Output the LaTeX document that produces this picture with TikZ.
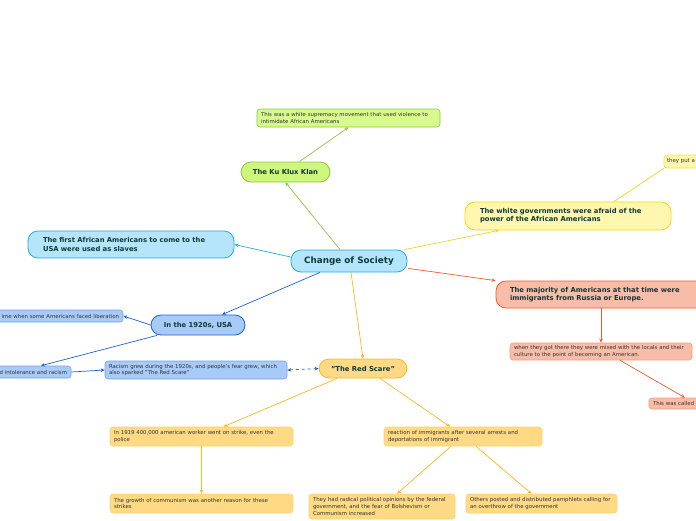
\documentclass[tikz,border=0pt]{standalone}
\usepackage{fontspec}
\setmainfont{DejaVu Sans}
\usetikzlibrary{arrows.meta}
\definecolor{gF}{HTML}{CEF57C}\definecolor{gB}{HTML}{8DC63F}\definecolor{gF2}{HTML}{D7F98E}
\definecolor{bF}{HTML}{B5E5FB}\definecolor{bB}{HTML}{29A9E1}
\definecolor{yF}{HTML}{FFF7B0}\definecolor{yB}{HTML}{EFD51E}
\definecolor{sF}{HTML}{F8BDA9}\definecolor{sB}{HTML}{F25A28}
\definecolor{dF}{HTML}{A8CAF9}\definecolor{dB}{HTML}{1C62D0}
\definecolor{oF}{HTML}{FFD983}\definecolor{oB}{HTML}{FFB51C}
\definecolor{topT}{HTML}{0E3A38}\definecolor{subT}{HTML}{333333}
\tikzset{
  topic/.style={draw, rounded corners=10pt, line width=0.8pt, font=\fontsize{6.8}{8.2}\selectfont\bfseries, text=topT, align=left, inner xsep=0pt, inner ysep=0pt},
  subbox/.style={draw, rounded corners=3pt, line width=0.6pt, font=\fontsize{5.4}{6.7}\selectfont, text=subT, align=left, inner xsep=0pt, inner ysep=0pt},
  arr/.style={line width=0.7pt, -{Stealth[length=4pt,width=3.5pt]}},
}
\begin{document}
\begin{tikzpicture}[x=1pt,y=-1pt]
\useasboundingbox (0,0) rectangle (696,520);
\clip (0,0) rectangle (696,520);
% central
\node[topic, fill=bF, draw=bB, minimum width=116pt, minimum height=22pt, font=\fontsize{8.8}{10}\selectfont\bfseries, align=center] (c) at (349,261) {Change of Society};
% KKK
\node[topic, fill=gF, draw=gB, minimum width=89pt, minimum height=20pt, align=center] (kkk) at (285.5,172) {The Ku Klux Klan};
\node[subbox, fill=gF2, draw=gB, minimum width=183pt, minimum height=18pt, text width=175pt] (kkkd) at (348.5,118) {This was a white supremacy movement that used violence to\\intimidate African Americans};
% first african
\node[topic, fill=bF, draw=bB, minimum width=206pt, minimum height=27pt, text width=176pt] (fa) at (131,244.5) {The first African Americans to come to the\\USA were used as slaves};
% white governments
\node[topic, fill=yF, draw=yB, minimum width=206pt, minimum height=28pt, text width=176pt] (wg) at (568,216) {The white governments were afraid of the\\power of the African Americans};
\node[subbox, fill=yF, draw=yB!80, minimum width=60pt, minimum height=13pt, text width=54pt] (tp) at (694,161.5) {they put a};
% majority
\node[topic, fill=sF, draw=sB, minimum width=210pt, minimum height=27pt, text width=182pt] (mj) at (601,294.5) {The majority of Americans at that time were\\immigrants from Russia or Europe.};
\node[subbox, fill=sF, draw=sB!60, minimum width=182pt, minimum height=17pt, text width=174pt] (wt) at (601,351.5) {when they got there they were mixed with the locals and their\\culture to the point of becoming an American.};
\node[subbox, fill=sF, draw=sB!60, minimum width=60pt, minimum height=11pt, text width=52pt] (tw) at (679,403.5) {This was called};
% 1920s
\node[topic, fill=dF, draw=dB, minimum width=94pt, minimum height=20pt, align=center] (tw20) at (198,325) {In the 1920s, USA};
\node[subbox, fill=dF, draw=dB!60, minimum width=140pt, minimum height=12pt, text width=132pt, align=right] (lib) at (53,316) {ime when some Americans faced liberation};
\node[subbox, fill=dF, draw=dB!60, minimum width=84pt, minimum height=12pt, text width=76pt, align=right] (int) at (29,372) {d intolerance and racism};
\node[subbox, fill=dF, draw=dB!60, minimum width=182pt, minimum height=18pt, text width=174pt] (rg) at (196,370) {Racism grew during the 1920s, and people's fear grew, which\\also sparked "The Red Scare"};
% red scare
\node[topic, fill=oF, draw=oB, minimum width=88pt, minimum height=19pt, align=center] (rs) at (363,368.5) {"The Red Scare"};
\node[subbox, fill=oF, draw=oB!60, minimum width=183pt, minimum height=19pt, text width=175pt] (s19) at (201.5,436.5) {In 1919 400,000 american worker went on strike, even the\\police};
\node[subbox, fill=oF, draw=oB!60, minimum width=183pt, minimum height=19pt, text width=175pt] (gc) at (201.5,503.5) {The growth of communism was another reason for these\\strikes};
\node[subbox, fill=oF, draw=oB!60, minimum width=158pt, minimum height=19pt, text width=150pt] (re) at (463,436.5) {reaction of immigrants after several arrests and\\deportations of immigrant};
\node[subbox, fill=oF, draw=oB!60, minimum width=146pt, minimum height=25pt, text width=138pt] (rad) at (382,506.5) {They had radical political opinions by the federal\\government, and the fear of Bolshevism or\\Communism increased};
\node[subbox, fill=oF, draw=oB!60, minimum width=151pt, minimum height=19pt, text width=143pt] (ot) at (541.5,503.5) {Others posted and distributed pamphlets calling for\\an overthrow of the government};
% connectors
\draw[arr, draw=gB] (c.north) ++(-9,0) coordinate (c1) -- (kkk.south);
\draw[arr, draw=gB] (kkk.north) ++(14,0) coordinate (k1) -- (kkkd.south);
\draw[arr, draw=bB] (c.west) ++(0,-4) coordinate (c2) -- (fa.east);
\draw[arr, draw=yB] (c.north east) ++(-3,0) coordinate (c3) -- ([xshift=-69pt]wg.south);
\draw[line width=0.7pt, draw=yB] ([xshift=46pt]wg.north) -- (tp.south west);
\draw[arr, draw=sB] (c.south east) ++(1,-4) coordinate (c4) -- (mj.north west);
\draw[arr, draw=sB] (mj.south) -- (wt.north);
\draw[arr, draw=sB] ([xshift=19pt]wt.south) -- ([xshift=6pt]tw.north);
\draw[arr, draw=dB] ([xshift=-29pt]c.south) -- ([xshift=24pt]tw20.north);
\draw[arr, draw=dB] (tw20.west) -- (lib.east);
\draw[arr, draw=dB] ([xshift=-41pt]tw20.south) -- ([xshift=12pt]int.north);
\draw[arr, draw=dB] (int.east) -- (rg.west);
\draw[line width=0.7pt, draw=dB, dashed, {Stealth[length=4pt,width=3.5pt]}-{Stealth[length=4pt,width=3.5pt]}] (rg.east) -- (rs.west);
\draw[arr, draw=oB] ([xshift=2pt]c.south) -- (rs.north);
\draw[arr, draw=oB] ([xshift=-26pt]rs.south) -- ([xshift=22pt]s19.north);
\draw[arr, draw=oB] ([xshift=17pt]rs.south) -- ([xshift=-13pt]re.north);
\draw[arr, draw=oB] (s19.south) -- (gc.north);
\draw[arr, draw=oB] ([xshift=-12pt]re.south) -- ([xshift=15pt]rad.north);
\draw[arr, draw=oB] ([xshift=13pt]re.south) -- ([xshift=-10pt]ot.north);
\end{tikzpicture}
\end{document}
